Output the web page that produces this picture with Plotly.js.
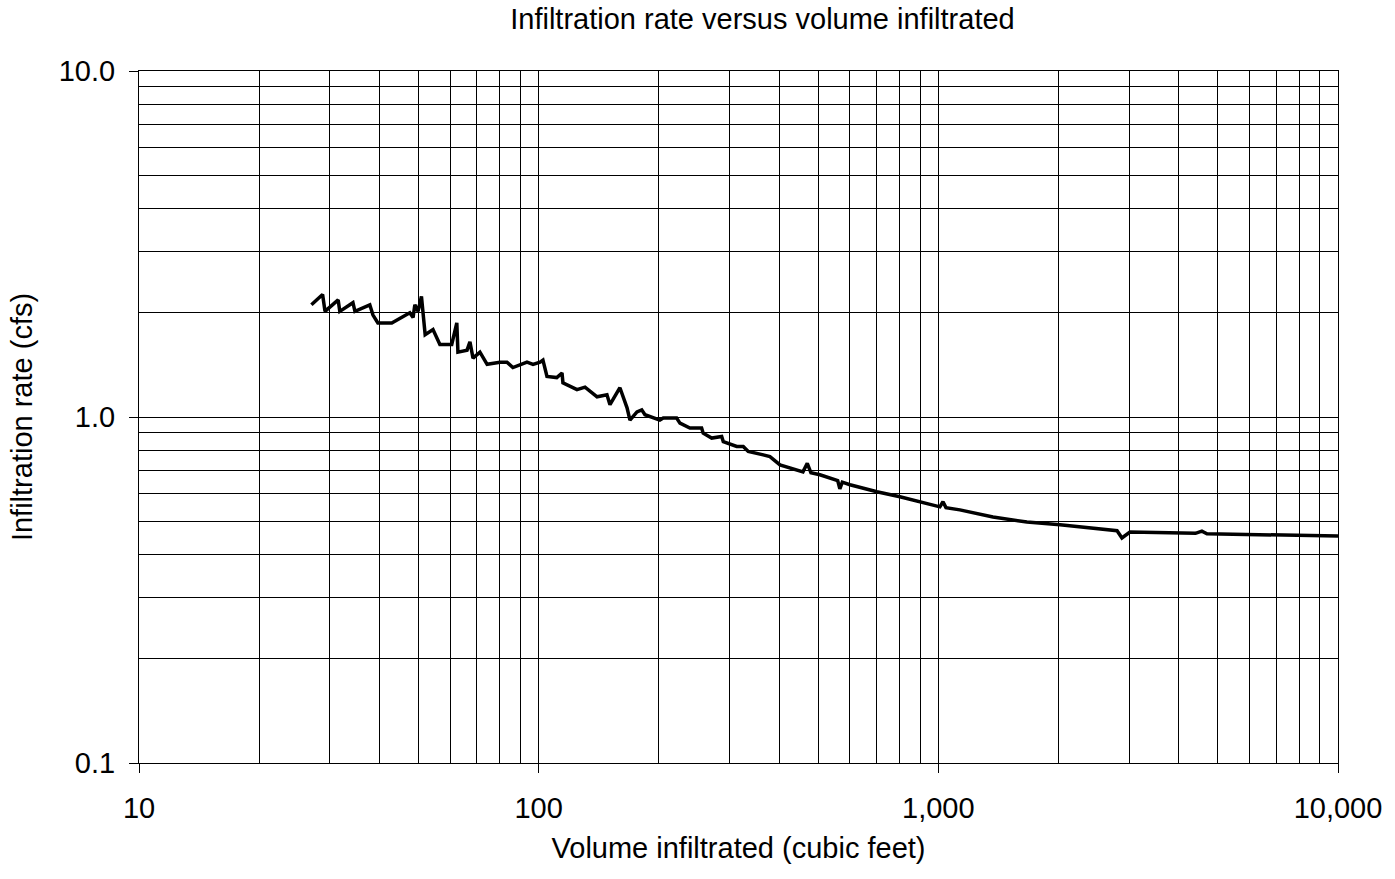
<!DOCTYPE html>
<html>
<head>
<meta charset="utf-8">
<script src="https://cdn.plot.ly/plotly-3.0.1.min.js"></script>
<style>html,body{margin:0;padding:0;background:#fff;}#chart{width:1395px;height:879px;}</style>
</head>
<body>
<div id="chart"></div>
<script>
// Volume infiltrated (cubic feet)
const volume = [27.0, 28.8, 29.2, 31.5, 31.8, 34.3, 34.7, 37.8, 38.5, 39.6, 42.9, 46.3, 47.6, 48.5, 49.0, 49.9, 50.9, 52.0, 54.4, 56.6,
  60.6, 62.4, 62.8, 66.2, 67.3, 68.5, 71.3, 74.3, 80.0, 83.3, 86.2, 93.5, 96.8, 100.8, 102.5, 104.9, 111, 114.4, 115, 124.7,
  130.6, 140, 148.2, 150.8, 159.7, 166.4, 169.2, 176.2, 181.1, 184.5, 201, 205, 221.4, 225.7, 239, 255.7, 258, 271, 287, 289.7,
  313, 325, 334.5, 364.7, 379, 401.6, 458.5, 470, 480, 505.5,
  560, 567, 575, 601, 702, 801.5, 899.5, 1009, 1027, 1045, 1132, 1370, 1666, 2016, 2800, 2880, 3016, 4022, 4400, 4565,
  4700, 5065, 6873, 10000];
// Infiltration rate (cfs)
const rate = [2.11, 2.26, 2.02, 2.18, 2.02, 2.14, 2.02, 2.11, 1.97, 1.87, 1.87, 1.96, 2.00, 1.94, 2.11, 2.02, 2.23, 1.73, 1.79, 1.62,
  1.62, 1.87, 1.54, 1.56, 1.65, 1.48, 1.54, 1.42, 1.44, 1.44, 1.39, 1.44, 1.42, 1.44, 1.46, 1.31, 1.30, 1.34, 1.256, 1.20,
  1.22, 1.144, 1.16, 1.085, 1.215, 1.063, 0.98, 1.035, 1.049, 1.015, 0.98, 0.993, 0.993, 0.96, 0.929, 0.929, 0.898, 0.869, 0.878, 0.849,
  0.822, 0.822, 0.795, 0.777, 0.768, 0.727, 0.694, 0.735, 0.69, 0.681,
  0.655, 0.62, 0.648, 0.637, 0.608, 0.588, 0.569, 0.55, 0.569, 0.547, 0.539, 0.514, 0.497, 0.488, 0.469, 0.447, 0.465, 0.462, 0.461, 0.468,
  0.460, 0.459, 0.456, 0.453];

const xTickVals = [10, 100, 1000, 10000];
const xTickText = ["10", "100", "1,000", "10,000"];
const yTickVals = [0.1, 1, 10];
const yTickText = ["0.1", "1.0", "10.0"];

const FONT = "Liberation Sans, Arial, sans-serif";

const trace = {
  x: volume, y: rate, type: "scatter", mode: "lines",
  line: {color: "#000", width: 3.5}, hoverinfo: "x+y"
};

const axisCommon = {
  type: "log",
  showgrid: true, gridcolor: "#000", gridwidth: 1,
  showline: true, linecolor: "#000", linewidth: 1, mirror: true,
  ticks: "outside", ticklen: 9, tickcolor: "#000", tickwidth: 1,
  tickmode: "array",
  zeroline: false,
  minor: {dtick: "D1", showgrid: true, gridcolor: "#000", gridwidth: 1, ticks: ""},
  tickfont: {family: FONT, size: 29, color: "#000"},
  automargin: false
};

const layout = {
  width: 1395, height: 879,
  margin: {l: 139, r: 57, t: 71, b: 116},
  paper_bgcolor: "#fff", plot_bgcolor: "#fff",
  showlegend: false,
  title: {text: "Infiltration rate versus volume infiltrated", font: {family: FONT, size: 29, color: "#000"},
          x: 0.52, xref: "paper", xanchor: "center", y: 0.978, yref: "container", yanchor: "middle"},
  xaxis: Object.assign({}, axisCommon, {
    range: [1, 4], tickvals: xTickVals, ticktext: xTickText,
    ticklabelstandoff: 10,
    title: {text: "Volume infiltrated (cubic feet)", font: {family: FONT, size: 29, color: "#000"}, standoff: 14}
  }),
  yaxis: Object.assign({}, axisCommon, {
    range: [-1, 1], tickvals: yTickVals, ticktext: yTickText,
    ticklabelstandoff: 8,
    title: {text: "Infiltration rate (cfs)", font: {family: FONT, size: 29, color: "#000"}, standoff: 17}
  })
};

Plotly.newPlot("chart", [trace], layout, {displayModeBar: false, staticPlot: true});
</script>
</body>
</html>
